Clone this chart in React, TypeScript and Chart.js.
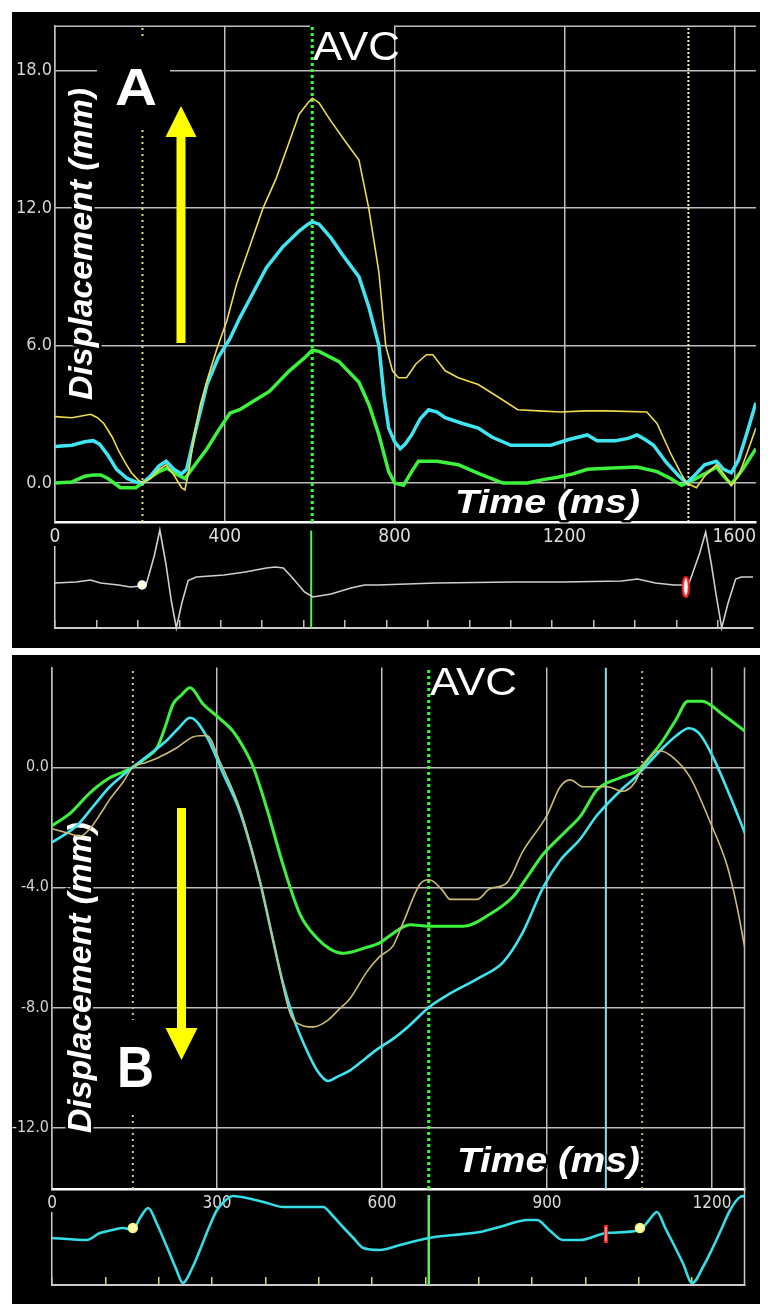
import React, { useEffect, useRef } from "react";
import { Chart, registerables } from "chart.js";

Chart.register(...registerables);

// ---------------- Panel A (upward displacement) ----------------
const timeTicksA = [0, 400, 800, 1200, 1600];
const dispTicksA = [0, 6, 12, 18];
const ecgTicksA = [0, 98, 196, 294, 392, 490, 588, 686, 784, 882, 980, 1078, 1176, 1274, 1372, 1470, 1568];

const tYellowA = [0, 40, 84, 100, 115, 135, 150, 165, 180, 195, 206, 225, 245, 262, 280, 298, 306, 316, 328, 342, 360, 382, 405, 428, 460, 490, 521, 550, 575, 596, 606, 622, 650, 692, 716, 739, 751, 763, 779, 795, 809, 828, 850, 875, 890, 919, 950, 997, 1040, 1090, 1140, 1191, 1250, 1300, 1394, 1418, 1450, 1475, 1488, 1511, 1530, 1558, 1575, 1593, 1610, 1630, 1651];
const yellowA = [2.9, 2.85, 3.0, 2.85, 2.6, 2.0, 1.4, 0.9, 0.45, 0.15, 0.0, 0.2, 0.6, 0.8, 0.35, -0.2, -0.3, 0.6, 2.1, 3.4, 4.6, 5.9, 7.1, 8.7, 10.4, 12.0, 13.3, 14.8, 16.1, 16.6, 16.8, 16.6, 15.8, 14.7, 14.1, 12.0, 10.6, 9.2, 6.0, 4.9, 4.6, 4.6, 5.2, 5.6, 5.6, 4.9, 4.6, 4.3, 3.8, 3.2, 3.15, 3.1, 3.15, 3.15, 3.1, 2.6, 1.3, 0.4, 0.0, -0.2, 0.3, 0.8, 0.4, -0.1, 0.3, 1.3, 2.4];

const tCyanA = [0, 40, 70, 90, 105, 125, 145, 170, 190, 206, 225, 245, 262, 280, 298, 310, 330, 358, 385, 412, 435, 458, 498, 536, 575, 596, 606, 622, 650, 676, 716, 739, 763, 775, 786, 800, 813, 825, 840, 860, 880, 900, 919, 960, 997, 1030, 1074, 1120, 1168, 1210, 1254, 1277, 1320, 1350, 1371, 1390, 1410, 1440, 1470, 1488, 1510, 1530, 1558, 1575, 1593, 1610, 1630, 1651];
const cyanA = [1.6, 1.65, 1.8, 1.85, 1.7, 1.2, 0.6, 0.2, 0.05, 0.0, 0.3, 0.75, 0.95, 0.6, 0.4, 0.6, 2.2, 4.3, 5.5, 6.3, 7.2, 8.0, 9.4, 10.3, 11.0, 11.3, 11.4, 11.3, 10.7, 10.0, 9.0, 7.7, 6.0, 3.8, 2.4, 1.8, 1.5, 1.7, 2.1, 2.8, 3.2, 3.1, 2.85, 2.6, 2.4, 2.0, 1.65, 1.65, 1.65, 1.9, 2.1, 1.85, 1.85, 1.95, 2.1, 1.9, 1.65, 0.9, 0.3, 0.0, 0.4, 0.8, 0.95, 0.6, 0.45, 1.0, 2.2, 3.5];

const tGreenA = [0, 40, 70, 90, 108, 125, 154, 190, 206, 225, 245, 264, 285, 306, 330, 358, 385, 412, 435, 470, 505, 552, 590, 606, 622, 669, 716, 740, 763, 786, 800, 821, 840, 856, 900, 950, 1000, 1055, 1113, 1150, 1184, 1220, 1254, 1300, 1371, 1418, 1450, 1476, 1500, 1530, 1558, 1575, 1593, 1620, 1651];
const greenA = [0.0, 0.05, 0.3, 0.35, 0.35, 0.2, -0.2, -0.2, 0.0, 0.25, 0.5, 0.65, 0.4, 0.2, 0.8, 1.5, 2.3, 3.05, 3.2, 3.6, 4.0, 4.9, 5.5, 5.8, 5.75, 5.3, 4.4, 3.4, 2.1, 0.5, 0.0, -0.1, 0.5, 0.95, 0.95, 0.8, 0.4, 0.0, 0.0, 0.15, 0.25, 0.4, 0.6, 0.65, 0.7, 0.5, 0.2, -0.1, 0.1, 0.4, 0.7, 0.3, -0.05, 0.6, 1.5];

const tEcgA = [0, 50, 84, 108, 150, 178, 206, 215, 235, 248, 262, 275, 287, 300, 315, 334, 400, 450, 500, 521, 540, 560, 590, 610, 653, 700, 732, 763, 903, 1083, 1200, 1340, 1378, 1420, 1464, 1492, 1500, 1525, 1539, 1552, 1565, 1577, 1592, 1610, 1623, 1651];
const ecgA = [0.0, 0.02, 0.06, 0.0, -0.04, -0.08, -0.06, -0.05, 0.55, 1.06, 0.4, -0.35, -0.9, -0.4, 0.05, 0.12, 0.16, 0.22, 0.3, 0.32, 0.3, 0.12, -0.18, -0.28, -0.22, -0.1, -0.04, -0.04, 0.0, 0.02, 0.02, 0.04, 0.08, 0.0, -0.04, -0.04, 0.0, 0.6, 1.02, 0.4, -0.3, -0.9, -0.4, 0.08, 0.12, 0.12];

const avcA = 606;
const dottedA = [206, 1492];
const circleMarkA = { t: 206, v: -0.04 };
const redMarkA = { t: 1492, v: -0.08 };

// ---------------- Panel B (downward displacement) ----------------
const timeTicksB = [0, 300, 600, 900, 1200];
const dispTicksB = [0, -4, -8, -12];
const ecgTicksB = [0, 97, 194, 291, 388, 485, 582, 679, 776, 873, 970, 1067, 1164];

const tYellowB = [0, 30, 51, 69, 90, 105, 129, 147, 170, 191, 227, 255, 269, 282, 305, 342, 378, 405, 433, 455, 475, 500, 520, 542, 573, 596, 620, 638, 669, 685, 693, 710, 724, 773, 796, 827, 856, 900, 924, 942, 966, 1009, 1038, 1060, 1073, 1105, 1129, 1160, 1196, 1227, 1245, 1260];
const yellowB = [-2.05, -2.2, -2.3, -2.05, -1.5, -1.07, -0.5, 0.0, 0.15, 0.3, 0.65, 1.0, 1.05, 1.05, 0.2, -1.4, -3.8, -6.0, -8.2, -8.6, -8.65, -8.45, -8.1, -7.7, -6.8, -6.3, -5.95, -5.2, -3.9, -3.75, -3.8, -4.1, -4.4, -4.4, -4.05, -3.85, -2.8, -1.6, -0.65, -0.42, -0.65, -0.65, -0.8, -0.5, 0.0, 0.55, 0.33, -0.33, -1.8, -3.25, -4.6, -6.05];

const tCyanB = [0, 45, 75, 105, 130, 147, 175, 209, 230, 251, 282, 311, 342, 378, 400, 420, 440, 460, 482, 502, 520, 542, 570, 591, 620, 650, 685, 718, 778, 820, 856, 893, 924, 960, 991, 1038, 1060, 1080, 1111, 1135, 1158, 1178, 1202, 1233, 1260];
const cyanB = [-2.5, -1.95, -1.3, -0.65, -0.25, 0.0, 0.4, 0.9, 1.3, 1.65, 1.0, -0.2, -1.5, -3.8, -5.6, -7.2, -8.4, -9.3, -10.1, -10.45, -10.3, -10.1, -9.7, -9.4, -9.05, -8.6, -8.0, -7.6, -7.0, -6.5, -5.5, -4.0, -3.1, -2.4, -1.6, -0.7, -0.35, 0.05, 0.65, 1.05, 1.3, 1.1, 0.33, -0.97, -2.2];

const tGreenB = [0, 35, 69, 105, 130, 147, 170, 191, 205, 220, 235, 251, 275, 300, 329, 350, 366, 391, 420, 451, 482, 505, 530, 572, 596, 615, 651, 685, 720, 748, 796, 839, 866, 893, 936, 962, 991, 1033, 1065, 1090, 1111, 1135, 1156, 1182, 1220, 1260];
const greenB = [-1.95, -1.5, -0.85, -0.35, -0.15, 0.0, 0.3, 0.65, 1.3, 2.1, 2.4, 2.65, 2.1, 1.7, 1.2, 0.6, 0.0, -1.4, -3.25, -4.9, -5.7, -6.05, -6.2, -6.0, -5.85, -5.6, -5.25, -5.3, -5.3, -5.3, -4.9, -4.3, -3.6, -2.9, -2.1, -1.6, -0.75, -0.35, -0.1, 0.4, 0.9, 1.6, 2.2, 2.2, 1.75, 1.2];

const tEcgB = [0, 63, 87, 110, 129, 147, 160, 175, 190, 209, 225, 238, 255, 269, 285, 300, 315, 329, 354, 391, 420, 493, 510, 529, 548, 566, 596, 633, 685, 730, 778, 820, 864, 882, 905, 929, 960, 1009, 1069, 1085, 1100, 1115, 1129, 1147, 1164, 1185, 1202, 1218, 1233, 1251, 1260];
const ecgB = [0.0, -0.04, 0.1, 0.16, 0.2, 0.16, 0.4, 0.6, 0.3, -0.18, -0.6, -0.9, -0.6, -0.24, 0.2, 0.56, 0.75, 0.84, 0.8, 0.7, 0.62, 0.62, 0.45, 0.22, 0.0, -0.2, -0.24, -0.14, 0.0, 0.06, 0.12, 0.24, 0.36, 0.36, 0.15, -0.04, -0.04, 0.1, 0.16, 0.35, 0.52, 0.2, -0.1, -0.5, -0.9, -0.55, -0.18, 0.2, 0.56, 0.82, 0.84];

const avcB = 685;
const dottedB = [147, 1073];
const cyanMarkB = 1007;
const circleMarksB = [{ t: 147, v: 0.2 }, { t: 1069, v: 0.2 }];
const redMarkB = { t: 1007, v: 0.08 };

// ---------------- styling ----------------
const NARROW = "'Liberation Sans Narrow', 'DejaVu Sans Condensed', 'Arial Narrow', sans-serif";
const SANS = "'Liberation Sans', Arial, sans-serif";
const GRID = "#bdbdbd";

const series = (t: number[], v: number[]) => t.map((x, i) => ({ x, y: v[i] }));
const vline = (t: number, y0: number, y1: number) => [{ x: t, y: y0 }, { x: t, y: y1 }];

function fitText(ctx: CanvasRenderingContext2D, text: string, x: number, y: number, width: number, font: string, color: string, outline = 0) {
  ctx.save();
  ctx.font = font;
  const w = ctx.measureText(text).width || 1;
  ctx.translate(x, y);
  ctx.scale(width / w, 1);
  ctx.textAlign = "left";
  ctx.textBaseline = "alphabetic";
  if (outline > 0) {
    ctx.lineJoin = "round";
    ctx.lineWidth = outline;
    ctx.strokeStyle = "#000";
    ctx.strokeText(text, 0, 0);
  }
  ctx.fillStyle = color;
  ctx.fillText(text, 0, 0);
  ctx.restore();
}

function vText(ctx: CanvasRenderingContext2D, text: string, baseX: number, startY: number, length: number, font: string, color: string, outline = 0) {
  ctx.save();
  ctx.translate(baseX, startY);
  ctx.rotate(-Math.PI / 2);
  fitText(ctx, text, 0, 0, length, font, color, outline);
  ctx.restore();
}

function arrow(ctx: CanvasRenderingContext2D, cx: number, shaftW: number, yTail: number, yBase: number, yTip: number, half: number, color: string) {
  ctx.save();
  ctx.fillStyle = color;
  ctx.fillRect(cx - shaftW / 2, Math.min(yTail, yBase), shaftW, Math.abs(yTail - yBase));
  ctx.beginPath();
  ctx.moveTo(cx - half, yBase);
  ctx.lineTo(cx + half, yBase);
  ctx.lineTo(cx, yTip);
  ctx.closePath();
  ctx.fill();
  ctx.restore();
}

function line(data: any[], color: string, width: number, extra: any = {}) {
  return { data, borderColor: color, borderWidth: width, pointRadius: 0, tension: 0, fill: false, ...extra };
}

function dispOptions(p: any) {
  return {
    animation: false,
    responsive: false,
    events: [],
    layout: { padding: { left: 0, top: p.padTop, right: p.padRight, bottom: 0 } },
    plugins: { legend: { display: false }, tooltip: { enabled: false } },
    elements: { point: { radius: 0 } },
    scales: {
      x: {
        type: "linear",
        min: 0,
        max: p.xMax,
        afterBuildTicks: (s: any) => { s.ticks = p.xTicks.map((v: number) => ({ value: v })); },
        afterFit: (s: any) => { s.height = 27; },
        ticks: { color: "#dcdcdc", font: { family: NARROW, size: p.xLabelSize }, padding: 4, maxRotation: 0, autoSkip: false, callback: (v: any) => String(v) },
        grid: { color: GRID, lineWidth: 1.5, drawTicks: false },
        border: { color: "#ffffff", width: 2.5 },
      },
      y: {
        type: "linear",
        min: p.yMin,
        max: p.yMax,
        afterBuildTicks: (s: any) => { s.ticks = p.yTicks.map((v: number) => ({ value: v })); },
        afterFit: (s: any) => { s.width = p.yWidth; },
        ticks: { color: "#d4d4d4", font: { family: NARROW, size: p.yLabelSize }, padding: 3, callback: (v: any) => Number(v).toFixed(1) },
        grid: { color: GRID, lineWidth: 1.5, drawTicks: false },
        border: { color: GRID, width: 1.5 },
      },
    },
  };
}

function ecgOptions(p: any) {
  return {
    animation: false,
    responsive: false,
    events: [],
    layout: { padding: { left: p.padLeft, top: p.padTop, right: p.padRight, bottom: p.padBottom } },
    plugins: { legend: { display: false }, tooltip: { enabled: false } },
    elements: { point: { radius: 0 } },
    scales: {
      x: {
        type: "linear",
        min: 0,
        max: p.xMax,
        afterBuildTicks: (s: any) => { s.ticks = p.ticks.map((v: number) => ({ value: v })); },
        afterFit: (s: any) => { s.height = 0; },
        ticks: { display: false },
        grid: { display: true, drawOnChartArea: false, drawTicks: true, tickLength: -8, color: p.tickColor, lineWidth: 1.5 },
        border: { color: "#cccccc", width: 2 },
      },
      y: {
        type: "linear",
        min: p.yMin,
        max: p.yMax,
        afterFit: (s: any) => { s.width = 0; },
        ticks: { display: false },
        grid: { display: false },
        border: { display: true, color: "#cccccc", width: 1.5 },
      },
    },
  };
}

function makeImg(w: number, h: number, draw: (g: CanvasRenderingContext2D) => void) {
  const c = document.createElement("canvas");
  c.width = w;
  c.height = h;
  const g = c.getContext("2d");
  if (g) draw(g);
  return c;
}

export default function App() {
  const aDisp = useRef<HTMLCanvasElement>(null);
  const aEcg = useRef<HTMLCanvasElement>(null);
  const bDisp = useRef<HTMLCanvasElement>(null);
  const bEcg = useRef<HTMLCanvasElement>(null);

  useEffect(() => {
    const charts: Chart[] = [];

    const redEllipse = makeImg(10, 24, (g) => {
      g.beginPath();
      g.ellipse(5, 12, 3, 10, 0, 0, Math.PI * 2);
      g.fillStyle = "#ffffff";
      g.fill();
      g.lineWidth = 2.2;
      g.strokeStyle = "#ff2020";
      g.stroke();
    });
    const redBar = makeImg(6, 20, (g) => {
      g.fillStyle = "#ff2020";
      g.fillRect(1, 1, 4, 18);
      g.fillStyle = "#ffffff";
      g.fillRect(2.5, 3, 1, 14);
    });

    // ---------- Panel A displacement ----------
    const decoA = {
      id: "decoA",
      beforeDatasetsDraw(chart: any) {
        const ctx = chart.ctx as CanvasRenderingContext2D;
        const ca = chart.chartArea;
        ctx.save();
        ctx.strokeStyle = GRID;
        ctx.lineWidth = 1.5;
        ctx.beginPath();
        ctx.moveTo(ca.left, ca.top + 0.5);
        ctx.lineTo(ca.right, ca.top + 0.5);
        ctx.stroke();
        ctx.fillStyle = "#000";
        ctx.fillRect(298, 12, 84, 40);
        ctx.restore();
        fitText(ctx, "AVC", 301, 48, 87, `40px ${SANS}`, "#ffffff");
        fitText(ctx, "Time (ms)", 443, 501, 185, `bold italic 33px ${SANS}`, "#ffffff", 5);
        vText(ctx, "Displacement (mm)", 80, 388, 312, `bold italic 33px ${SANS}`, "#ffffff", 5);
      },
      afterDatasetsDraw(chart: any) {
        const ctx = chart.ctx as CanvasRenderingContext2D;
        ctx.save();
        ctx.fillStyle = "#000";
        ctx.fillRect(85, 26, 73, 92);
        ctx.restore();
        fitText(ctx, "A", 103, 93, 42, `bold 52px ${SANS}`, "#ffffff");
        arrow(ctx, 169, 9, 331, 125, 94, 15.5, "#ffff00");
      },
    };

    const yMinA = -1.7, yMaxA = 19.96;
    if (aDisp.current) {
      charts.push(new Chart(aDisp.current, {
        type: "line",
        data: {
          datasets: [
            line(series(tYellowA, yellowA), "#eedc4a", 1.6),
            line(series(tCyanA, cyanA), "#3fe6f2", 3.5),
            line(series(tGreenA, greenA), "#3cf23c", 3.5),
            line(vline(avcA, yMinA, yMaxA), "#33ff33", 3, { borderDash: [3, 3] }),
            line(vline(dottedA[0], yMinA, yMaxA), "#e8e070", 2, { borderDash: [2, 4] }),
            line(vline(dottedA[1], yMinA, yMaxA), "#f2f0b8", 2, { borderDash: [2, 2] }),
          ],
        },
        options: dispOptions({ padTop: 1, padRight: 0, xMax: 1651, xTicks: timeTicksA, yMin: yMinA, yMax: yMaxA, yTicks: dispTicksA, yWidth: 43, xLabelSize: 19, yLabelSize: 18 }) as any,
        plugins: [decoA],
      } as any));
    }

    // ---------- Panel A ECG ----------
    if (aEcg.current) {
      charts.push(new Chart(aEcg.current, {
        type: "line",
        data: {
          datasets: [
            { ...line([{ x: circleMarkA.t, y: circleMarkA.v }], "#ffffff", 1.5), showLine: false, pointRadius: 4, pointStyle: "circle", pointBackgroundColor: "#ffffd8", pointBorderColor: "#ffffff", pointBorderWidth: 1.5, clip: false },
            { ...line([{ x: redMarkA.t, y: redMarkA.v }], "#ff2020", 1), showLine: false, pointRadius: 6, pointStyle: redEllipse, clip: false },
            line(series(tEcgA, ecgA), "#cfcfcf", 1.6, { clip: false }),
            line(vline(avcA, -0.9, 1.05), "#55f055", 2, { clip: false }),
          ],
        },
        options: ecgOptions({ padLeft: 43, padTop: 25, padRight: 0, padBottom: 20, xMax: 1651, ticks: ecgTicksA, tickColor: "#c0c0c0", yMin: -0.9, yMax: 0.72 }) as any,
      } as any));
    }

    // ---------- Panel B displacement ----------
    const decoB = {
      id: "decoB",
      beforeDatasetsDraw(chart: any) {
        const ctx = chart.ctx as CanvasRenderingContext2D;
        const ca = chart.chartArea;
        ctx.save();
        ctx.strokeStyle = GRID;
        ctx.lineWidth = 1.5;
        ctx.beginPath();
        ctx.moveTo(ca.right - 0.5, ca.top);
        ctx.lineTo(ca.right - 0.5, ca.bottom);
        ctx.stroke();
        ctx.restore();
        fitText(ctx, "AVC", 418, 40, 87, `39px ${SANS}`, "#ffffff");
        fitText(ctx, "Time (ms)", 445, 517, 183, `bold italic 35px ${SANS}`, "#ffffff", 5);
        vText(ctx, "Displacement (mm)", 79, 478, 311, `bold italic 33px ${SANS}`, "#ffffff", 5);
      },
      afterDatasetsDraw(chart: any) {
        const ctx = chart.ctx as CanvasRenderingContext2D;
        ctx.save();
        ctx.fillStyle = "#000";
        ctx.fillRect(85, 365, 73, 93);
        ctx.restore();
        fitText(ctx, "B", 105, 432, 37, `bold 58px ${SANS}`, "#ffffff");
        arrow(ctx, 169.5, 9, 153, 373, 405, 16, "#ffff00");
      },
    };

    const yMinB = -14.05, yMaxB = 3.32;
    if (bDisp.current) {
      charts.push(new Chart(bDisp.current, {
        type: "line",
        data: {
          datasets: [
            line(series(tYellowB, yellowB), "#cdbb78", 1.6, { cubicInterpolationMode: "monotone" }),
            line(series(tCyanB, cyanB), "#3fe6f2", 2.6, { cubicInterpolationMode: "monotone" }),
            line(series(tGreenB, greenB), "#3cf23c", 3, { cubicInterpolationMode: "monotone" }),
            line(vline(avcB, yMinB, yMaxB), "#33ff33", 3, { borderDash: [3, 3] }),
            line(vline(dottedB[0], yMinB, yMaxB), "#d8c878", 2, { borderDash: [2, 4] }),
            line(vline(dottedB[1], yMinB, yMaxB), "#c8b070", 2, { borderDash: [2, 4] }),
            line(vline(cyanMarkB, yMinB, yMaxB), "#90d8e8", 2),
          ],
        },
        options: dispOptions({ padTop: 0, padRight: 15, xMax: 1260, xTicks: timeTicksB, yMin: yMinB, yMax: yMaxB, yTicks: dispTicksB, yWidth: 40, xLabelSize: 17, yLabelSize: 16 }) as any,
        plugins: [decoB],
      } as any));
    }

    // ---------- Panel B ECG ----------
    const decoBEcg = {
      id: "decoBEcg",
      afterDraw(chart: any) {
        const ctx = chart.ctx as CanvasRenderingContext2D;
        const ca = chart.chartArea;
        ctx.save();
        ctx.strokeStyle = "#cccccc";
        ctx.lineWidth = 1.5;
        ctx.beginPath();
        ctx.moveTo(ca.right - 0.5, 0);
        ctx.lineTo(ca.right - 0.5, ca.bottom);
        ctx.stroke();
        ctx.restore();
      },
    };
    if (bEcg.current) {
      charts.push(new Chart(bEcg.current, {
        type: "line",
        data: {
          datasets: [
            { ...line(circleMarksB.map((m) => ({ x: m.t, y: m.v })), "#ffff80", 1.5), showLine: false, pointRadius: 4.5, pointStyle: "circle", pointBackgroundColor: "#ffffb8", pointBorderColor: "#f4f060", pointBorderWidth: 1.5, clip: false },
            { ...line([{ x: redMarkB.t, y: redMarkB.v }], "#ff2020", 1), showLine: false, pointRadius: 6, pointStyle: redBar, clip: false },
            line(series(tEcgB, ecgB), "#35dde6", 2.6, { clip: false, cubicInterpolationMode: "monotone" }),
            line(vline(avcB, -0.94, 0.86), "#55f055", 2.5, { clip: false }),
          ],
        },
        options: ecgOptions({ padLeft: 40, padTop: 24, padRight: 15, padBottom: 19, xMax: 1260, ticks: ecgTicksB, tickColor: "#e0dc50", yMin: -0.94, yMax: 0.5 }) as any,
        plugins: [decoBEcg],
      } as any));
    }

    return () => {
      charts.forEach((c) => c.destroy());
    };
  }, []);

  const abs = (left: number, top: number): React.CSSProperties => ({ position: "absolute", left, top, display: "block" });

  return (
    <div style={{ position: "absolute", left: 0, top: 0, width: 771, height: 1314, background: "#ffffff", overflow: "hidden" }}>
      <div style={{ position: "absolute", left: 12, top: 12, width: 748, height: 636, background: "#000" }} />
      <div style={{ position: "absolute", left: 12, top: 655, width: 748, height: 649, background: "#000" }} />
      <canvas ref={aDisp} width={748} height={537} style={abs(12, 12)} />
      <canvas ref={aEcg} width={748} height={126} style={abs(12, 522)} />
      <canvas ref={bDisp} width={748} height={561} style={abs(12, 655)} />
      <canvas ref={bEcg} width={748} height={115} style={abs(12, 1189)} />
    </div>
  );
}
